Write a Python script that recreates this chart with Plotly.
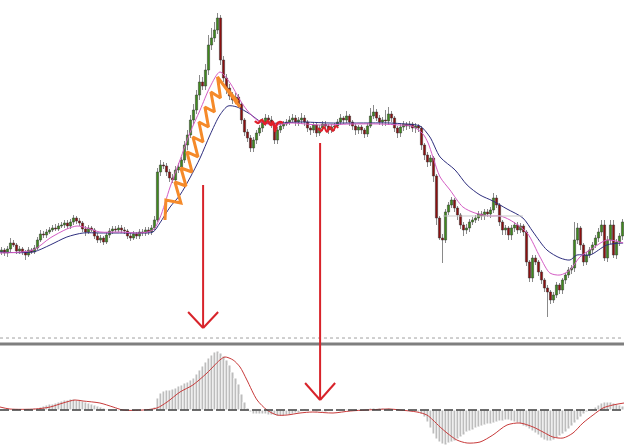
import plotly.graph_objects as go

# ---------------- price data (one candle per bar) ----------------
opens = [88,90,87,91,97,95,89,91,88,85,
         90,88,92,100,106,105,108,110,112,111,
         114,115,117,114,118,122,119,117,111,108,
         112,110,104,100,102,98,105,109,111,110,
         112,110,109,104,102,106,104,108,107,110,
         108,112,120,168,175,174,168,162,160,170,
         173,180,195,205,220,230,245,258,254,270,
         295,302,310,322,280,262,252,244,240,243,
         236,220,208,202,192,200,207,212,218,222,
         220,215,200,210,214,216,218,220,222,218,
         220,222,218,212,210,215,207,212,216,214,
         210,213,214,218,222,220,224,218,214,210,
         213,210,206,214,224,228,222,218,220,219,
         226,222,212,207,213,216,214,216,212,214,
         212,195,185,178,182,164,122,102,100,128,
         135,140,132,125,115,110,112,118,120,122,
         126,124,128,126,130,142,135,118,110,112,
         105,112,115,110,114,108,78,62,82,78,
         68,60,52,48,40,45,55,50,60,65,
         70,72,100,112,95,78,85,90,95,102,
         108,115,82,100,115,85,98,104]
closes = [90,87,91,97,95,89,91,88,85,90,
          88,92,100,106,105,108,110,112,111,114,
          115,117,114,118,122,119,117,111,108,112,
          110,104,100,102,98,105,109,111,110,112,
          110,109,104,102,106,104,108,107,110,108,
          112,120,168,175,174,168,162,160,170,173,
          180,195,205,220,230,245,258,254,270,295,
          302,310,322,280,262,252,244,240,243,236,
          220,208,202,192,200,207,212,218,222,220,
          215,200,210,214,216,218,220,222,218,220,
          222,218,212,210,215,207,212,216,214,210,
          213,214,218,222,220,224,218,214,210,213,
          210,206,214,224,228,222,218,220,219,226,
          222,212,207,213,216,214,216,212,214,212,
          195,185,178,182,164,122,102,100,128,135,
          140,132,125,115,110,112,118,120,122,126,
          124,128,126,130,142,135,118,110,112,105,
          112,115,110,114,108,78,62,82,78,68,
          60,52,48,40,45,55,50,60,65,70,
          72,100,112,95,78,85,90,95,102,108,
          115,82,100,115,85,98,104,118]
highs = [93,92,94,102,100,97,94,93,90,93,
         92,95,103,110,109,111,113,115,116,117,
         118,120,120,121,125,124,122,119,114,115,
         114,112,107,105,104,108,112,114,114,115,
         115,113,111,107,109,108,111,111,113,113,
         115,124,172,180,178,177,171,166,174,177,
         183,199,210,225,236,250,265,263,276,305,
         312,318,327,325,284,266,256,248,247,246,
         238,222,211,205,203,210,215,222,226,225,
         224,217,213,217,219,221,224,226,225,223,
         227,225,220,214,218,217,215,219,219,216,
         216,217,221,226,224,229,226,220,216,215,
         215,212,217,232,235,231,225,223,230,233,
         229,224,214,216,219,218,219,218,217,216,
         214,197,188,185,184,166,124,106,131,138,
         143,142,134,127,118,116,121,123,125,129,
         129,131,131,133,147,145,137,120,115,114,
         115,118,118,117,116,110,80,85,85,80,
         70,62,55,50,48,58,57,62,67,73,
         75,118,117,114,97,88,93,98,105,112,
         120,120,104,120,120,101,107,121]
lows = [85,84,83,88,93,86,86,85,80,83,
        86,86,90,98,102,102,106,108,109,109,
        112,112,111,111,115,116,114,108,104,106,
        108,101,97,97,95,96,102,106,108,108,
        107,106,101,99,100,101,101,104,104,105,
        105,110,118,164,171,164,158,157,156,167,
        170,177,190,202,216,226,240,250,250,265,
        290,298,306,275,258,246,240,236,236,232,
        216,204,198,188,188,196,204,208,214,216,
        212,196,196,207,211,214,215,217,214,214,
        216,214,208,205,207,203,204,209,211,206,
        207,209,212,215,216,217,214,210,205,206,
        206,202,203,212,221,219,215,214,214,215,
        218,208,202,203,209,210,211,208,207,208,
        190,180,173,174,158,115,100,77,97,125,
        132,128,120,111,104,106,108,115,117,119,
        120,120,123,122,127,132,114,105,105,100,
        100,108,106,107,104,74,58,58,75,64,
        56,48,23,36,37,42,46,46,56,62,
        66,68,96,90,74,75,82,86,92,98,
        104,79,78,96,82,81,94,100]
bars = list(range(len(closes)))

# ---------------- moving averages (sampled) ----------------
fast_ma_x = [-0.5,10.5,16.2,21.8,25.2,28.5,32.8,39.5,46.2,50.5,52.8,56.2,59.5,62.8,66.2,69.5,72.8,76.2,79.5,81.8,
             85.2,90.5,96.2,106.2,116.2,126.2,132.8,136.8,140.5,142.2,143.8,146.2,149.5,153.8,157.8,162.8,166.2,
             169.5,175.2,179.5,182.8,186.2,189.5,192.8,197.2,201.8,207.2]
fast_ma_y = [87,90,102,111,114,112,108,108,107,110,122,153,180,207,230,253,268,257,240,230,
             220,215,217,215,216,216,215,214,206,197,183,163,150,133,127,124,124,
             120,107,83,67,65,70,83,92,100,97]
slow_ma_x = [-0.5,10.5,16.2,21.8,27.2,32.8,38.5,46.2,50.5,52.8,56.2,59.5,62.8,66.2,69.5,72.8,75.5,78.5,82.8,87.2,
             92.8,99.5,109.5,119.5,129.5,134.5,139.5,142.8,146.2,151.2,155.2,159.5,163.8,168.5,173.8,177.2,181.8,
             186.2,189.5,191.8,196.2,201.8,207.2]
slow_ma_y = [88,88,95,103,107,107,107,107,108,117,133,145,162,182,205,225,234,233,226,217,
             217,218,217,217,217,216,214,203,183,170,155,145,139,131,122,108,90,
             82,80,85,85,95,97]

# ---------------- MACD panel ----------------
macd_hist = [1,1,1,1,1,1,1,1,1,1,1,2,
             2,3,4, 5,6,6,7, 8,9,10, 10,11,11, 10,10,9,8, 7,6,5, 4,3,2,
             1,0,0,-1,-1, -1,0,0,-1,-1,0,0,0, 0,0,1,
             3,12,17,19, 20,20,21, 22,24,25, 27,28,30,32, 36,40,44, 48,52,55,
             58,59,57, 54,50,45, 38,32,26, 16,8,2, -2,-4,-4,-4, -4,-4,-5,-5,-5,
             -6,-6,-6,-5,-5, -4,-3,-3, -1,1,0,-1,-1,-2,-1,
             -2,-2,-1,-1,0,0,-1,0,1,0, 0,1,1,0,0,1,2,2,1,2, 2,1,2,1,0,1,0,-1,0,-1,
             -1,-1,-2, -4,-7,-12,-18,-24,-29,-32,-34,-35,-33,
             -32,-31,-29, -27,-25,-22, -21,-20,-18,-17, -16,-15,-14,-14,-13,
             -12,-11,-11,-10,-10, -11,-12,-13, -14,-16,-17,-19, -21,-23,-25,
             -28,-30,-31, -31,-30,-28, -26,-24,-22, -19,-16,-13, -10,-7,-4,
             -2,0,1, 3,5,7, 8,8,8, 7,6,5,4]
signal_x = [-0.5,2.8,11.2,16.2,20.5,24.5,27.2,32.8,37.2,40.5,47.2,51.8,55.2,59.5,63.8,68.5,72.8,74.5,77.2,79.5,
            81.8,85.2,88.5,91.8,95.2,99.5,103.8,110.5,116.2,121.8,129.5,132.8,138.5,141.8,143.8,146.2,148.5,
            151.8,155.2,159.5,163.8,168.5,172.8,177.2,180.5,183.8,187.2,190.5,193.8,197.2,200.5,203.8,207.5]
signal_y = [3,1,1,3,7,10,9,7,3,0,0,2,8,18,25,37,50,53,50,43,
            30,10,0,-5,-5,-3,-2,-3,-1,0,1,0,-2,-5,-10,-17,-23,
            -30,-33,-32,-25,-15,-13,-17,-22,-27,-28,-23,-13,-5,2,5,7]

# ---------------- hand-drawn markings ----------------
zigzag_x = [54.5,54.8,59.8,57.8,61.5,59.8,63.5,61.8,65.5,63.8,67.2,65.8,69.0,67.8,71.0,69.8,73.0,72.0,79.5,75.5,78.8,76.5,78.5]
zigzag_y = [120,140,137,158,154,172,168,188,183,203,198,218,213,233,228,248,242,263,233,250,238,246,236]
squiggle1_x = [84.5,85.5,86.8,87.8,88.8,89.8,90.5,91.2,91.8,92.8,93.8]
squiggle1_y = [219,217,220,216,219,215,218,209,216,218,217]
squiggle2_x = [105.5,106.5,107.5,108.5,109.5,110.5,111.5,112.2]
squiggle2_y = [212,209,213,208,213,209,214,212]

wick_len = [h - l for h, l in zip(highs, lows)]
body_base = [min(o, c) for o, c in zip(opens, closes)]
body_size = [max(abs(c - o), 0.8) for o, c in zip(opens, closes)]
body_color = ["#3f8a1c" if c >= o else "#8c1010" for o, c in zip(opens, closes)]

fig = go.Figure()

# wicks (gray)
fig.add_trace(go.Bar(x=bars, y=wick_len, base=lows, width=0.3,
                     marker=dict(color="#8a8a8a", line=dict(width=0)),
                     xaxis="x", yaxis="y", hoverinfo="skip"))
# bodies
fig.add_trace(go.Bar(x=bars, y=body_size, base=body_base, width=0.75,
                     marker=dict(color=body_color, line=dict(color="#333333", width=0.5)),
                     xaxis="x", yaxis="y", hoverinfo="skip"))

fig.add_trace(go.Scatter(x=slow_ma_x, y=slow_ma_y, mode="lines",
                         line=dict(color="#2e2e7e", width=1, shape="spline", smoothing=0.8),
                         xaxis="x", yaxis="y"))
fig.add_trace(go.Scatter(x=fast_ma_x, y=fast_ma_y, mode="lines",
                         line=dict(color="#d45cc4", width=1, shape="spline", smoothing=0.8),
                         xaxis="x", yaxis="y"))
fig.add_trace(go.Scatter(x=zigzag_x, y=zigzag_y, mode="lines",
                         line=dict(color="#f58a2a", width=3), xaxis="x", yaxis="y"))
fig.add_trace(go.Scatter(x=squiggle1_x, y=squiggle1_y, mode="lines",
                         line=dict(color="#e0202a", width=2.5, shape="spline"), xaxis="x", yaxis="y"))
fig.add_trace(go.Scatter(x=squiggle2_x, y=squiggle2_y, mode="lines",
                         line=dict(color="#e0202a", width=2, shape="spline"), xaxis="x", yaxis="y"))

fig.add_trace(go.Bar(x=bars[:len(macd_hist)], y=macd_hist, width=1.0,
                     marker=dict(color="#bdbdbd", line=dict(color="white", width=1)),
                     xaxis="x", yaxis="y2"))
fig.add_trace(go.Scatter(x=signal_x, y=signal_y, mode="lines",
                         line=dict(color="#c83a3a", width=1, shape="spline", smoothing=0.8),
                         xaxis="x", yaxis="y2"))

red = "#d8232a"
shapes = [
    dict(type="line", xref="paper", yref="paper", x0=0, x1=1, y0=0.2455, y1=0.2455,
         line=dict(color="#a0a0a0", width=1, dash="dot")),
    dict(type="line", xref="paper", yref="paper", x0=0, x1=1, y0=0.2321, y1=0.2321,
         line=dict(color="#7f7f7f", width=3)),
    dict(type="line", xref="paper", yref="y2", x0=0, x1=1, y0=0, y1=0,
         line=dict(color="#3c3c3c", width=1.5, dash="9px,3px")),
    dict(type="line", xref="x", yref="y", x0=147.2, x1=173.8, y0=124, y1=124,
         line=dict(color="#c8c8c8", width=1)),
    dict(type="line", xref="x", yref="y", x0=67.2, x1=67.2, y0=155, y1=12,
         line=dict(color=red, width=2)),
    dict(type="line", xref="x", yref="y", x0=62.2, x1=67.2, y0=28, y1=12,
         line=dict(color=red, width=2)),
    dict(type="line", xref="x", yref="y", x0=72.2, x1=67.2, y0=28, y1=12,
         line=dict(color=red, width=2)),
    dict(type="line", xref="x", yref="paper", x0=106.2, x1=106.2, y0=0.6808, y1=0.1071,
         line=dict(color=red, width=2)),
    dict(type="line", xref="x", yref="paper", x0=101.2, x1=106.2, y0=0.1451, y1=0.1071,
         line=dict(color=red, width=2)),
    dict(type="line", xref="x", yref="paper", x0=111.2, x1=106.2, y0=0.1451, y1=0.1071,
         line=dict(color=red, width=2)),
]

fig.update_layout(
    width=624, height=448,
    margin=dict(l=0, r=0, t=0, b=0),
    paper_bgcolor="white", plot_bgcolor="white",
    showlegend=False, bargap=0, barmode="overlay",
    xaxis=dict(range=[-0.5, 207.5], visible=False, fixedrange=True),
    yaxis=dict(domain=[0.2411, 1], range=[0, 340], visible=False),
    yaxis2=dict(domain=[0, 0.2277], range=[-38, 64], visible=False, anchor="x"),
    shapes=shapes,
)

fig.write_html("out.html",
               config={"displayModeBar": False, "staticPlot": True},
               post_script="document.body.style.margin='0';document.body.style.padding='0';"
                           "document.body.style.overflow='hidden';")
